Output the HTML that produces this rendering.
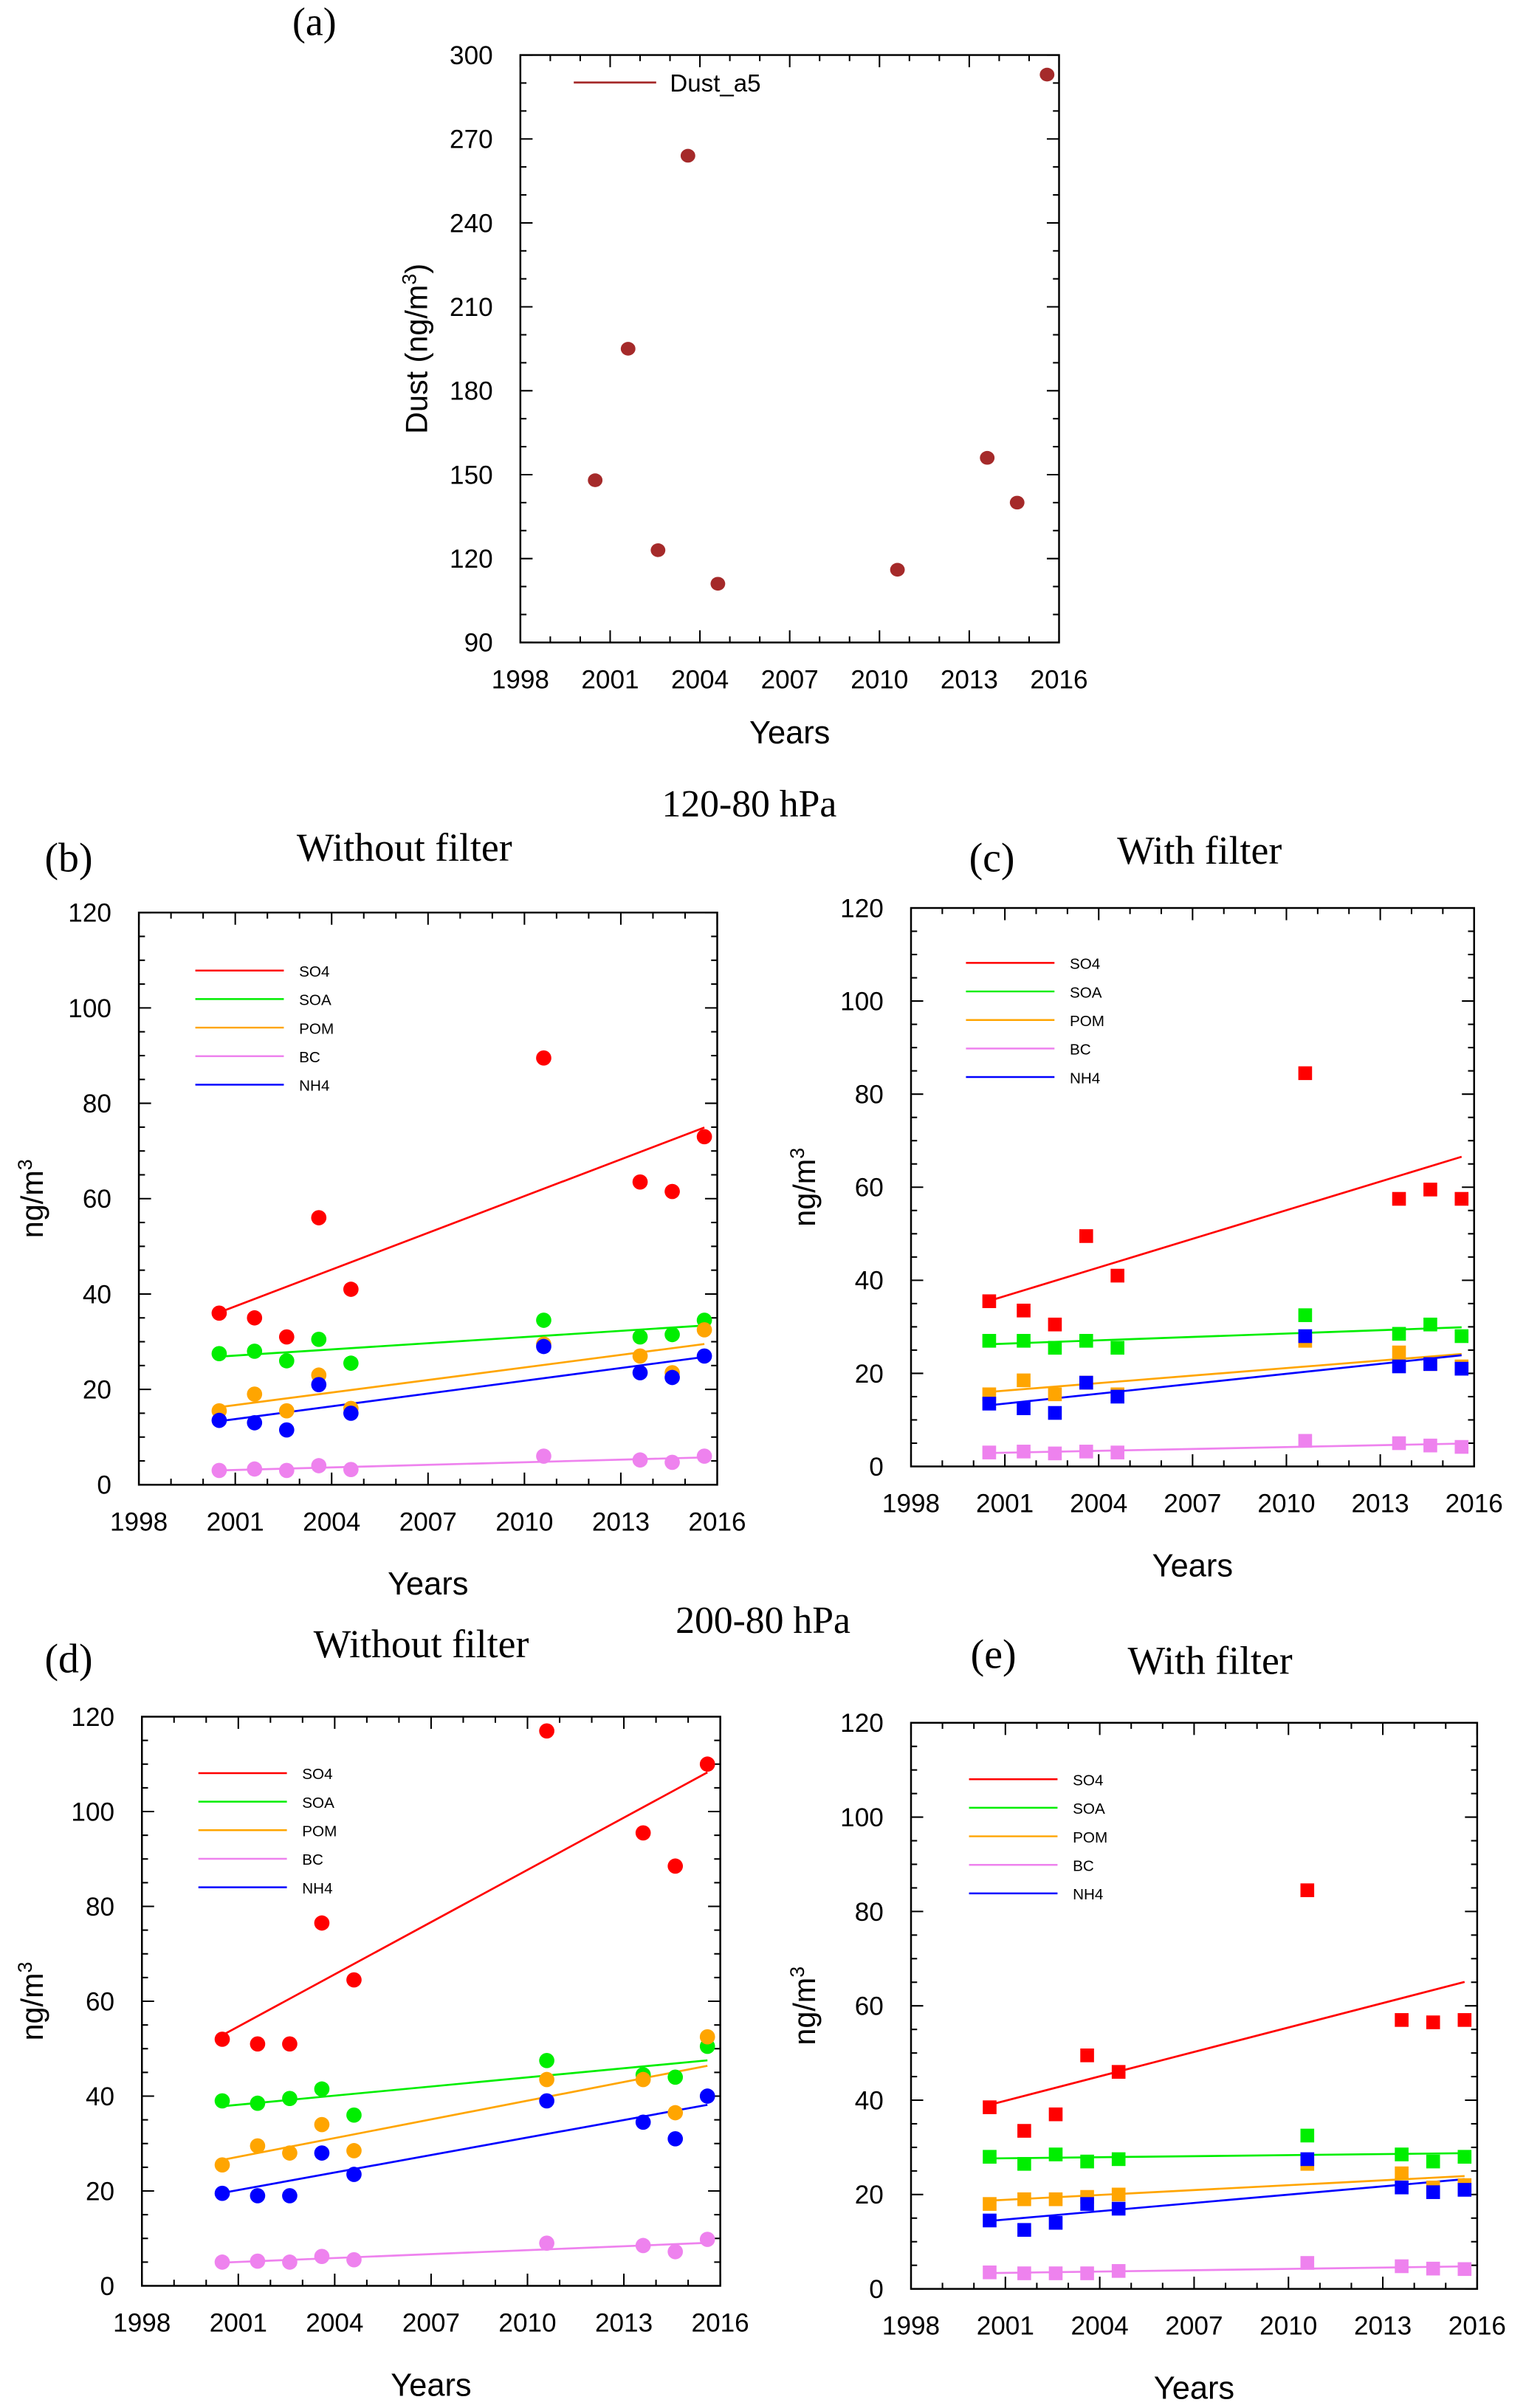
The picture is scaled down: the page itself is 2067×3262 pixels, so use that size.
<!DOCTYPE html>
<html><head><meta charset="utf-8">
<style>
html,body{margin:0;padding:0;background:#fff;}
svg{display:block;}
text{font-family:"Liberation Sans","DejaVu Sans",sans-serif;}
.serif{font-family:"Liberation Serif","DejaVu Serif",serif;}
</style></head>
<body>
<svg id="fig" width="2067" height="3262" viewBox="0 0 1000 1578" xmlns="http://www.w3.org/2000/svg">
<rect width="1000" height="1578" fill="#fff"/>
<text class="serif" x="206" y="23" font-size="26" text-anchor="middle">(a)</text>
<text class="serif" x="491" y="535" font-size="25" text-anchor="middle">120-80 hPa</text>
<text class="serif" x="45" y="571" font-size="27" text-anchor="middle">(b)</text>
<text class="serif" x="265" y="564" font-size="26" text-anchor="middle">Without filter</text>
<text class="serif" x="650" y="571" font-size="27" text-anchor="middle">(c)</text>
<text class="serif" x="786" y="566" font-size="26" text-anchor="middle">With filter</text>
<text class="serif" x="500" y="1070" font-size="25" text-anchor="middle">200-80 hPa</text>
<text class="serif" x="45" y="1096" font-size="27" text-anchor="middle">(d)</text>
<text class="serif" x="276" y="1086" font-size="26" text-anchor="middle">Without filter</text>
<text class="serif" x="651" y="1093" font-size="27" text-anchor="middle">(e)</text>
<text class="serif" x="793" y="1097" font-size="26" text-anchor="middle">With filter</text>
</svg>
<script>
// ---- data ----
const years = [2000.5, 2001.6, 2002.6, 2003.6, 2004.6, 2010.6, 2013.6, 2014.6, 2015.6];
const species = ["SO4", "SOA", "POM", "BC", "NH4"];
const dustValues = [148, 195, 123, 264, 111, 116, 156, 140, 293];
const xTicks = [1998, 2001, 2004, 2007, 2010, 2013, 2016];
const dustTicks = [90, 120, 150, 180, 210, 240, 270, 300];
const concTicks = [0, 20, 40, 60, 80, 100, 120];

const bSO4 = [36, 35, 31, 56, 41, 89.5, 63.5, 61.5, 73];
const bSOA = [27.5, 28, 26, 30.5, 25.5, 34.5, 31, 31.5, 34.5];
const bPOM = [15.5, 19, 15.5, 23, 16, 29.5, 27, 23.5, 32.5];
const bBC  = [3, 3.3, 3, 4, 3.2, 6, 5.2, 4.7, 6];
const bNH4 = [13.5, 13, 11.5, 21, 15, 29, 23.5, 22.5, 27];

const cSO4 = [35.5, 33.5, 30.5, 49.5, 41, 84.5, 57.5, 59.5, 57.5];
const cSOA = [27, 27, 25.5, 27, 25.5, 32.5, 28.5, 30.5, 28];
const cPOM = [15.5, 18.5, 15.5, 18, 15.5, 27, 24.5, 22, 21.5];
const cBC  = [3, 3.2, 2.8, 3.2, 3, 5.5, 5, 4.5, 4.2];
const cNH4 = [13.5, 12.5, 11.5, 18, 15, 28, 21.5, 22, 21];

const dSO4 = [52, 51, 51, 76.5, 64.5, 117, 95.5, 88.5, 110];
const dSOA = [39, 38.5, 39.5, 41.5, 36, 47.5, 44.5, 44, 50.5];
const dPOM = [25.5, 29.5, 28, 34, 28.5, 43.5, 43.5, 36.5, 52.5];
const dBC  = [5, 5.2, 5, 6.2, 5.5, 9, 8.5, 7.2, 9.8];
const dNH4 = [19.5, 19, 19, 28, 23.5, 39, 34.5, 31, 40];

const eSO4 = [38.5, 33.5, 37, 49.5, 46, 84.5, 57, 56.5, 57];
const eSOA = [28, 26.5, 28.5, 27, 27.5, 32.5, 28.5, 27, 28];
const ePOM = [18, 19, 19, 19.5, 20, 26.5, 24.5, 21.5, 22];
const eBC  = [3.5, 3.3, 3.3, 3.3, 3.8, 5.5, 4.8, 4.3, 4.2];
const eNH4 = [14.5, 12.5, 14, 18, 17, 27.5, 21.5, 20.5, 21];

const colors = ["#ff0000", "#00ee00", "#ffa500", "#ee82ee", "#0000ff"];

const NS = "http://www.w3.org/2000/svg";
const svg = document.getElementById("fig");
function mk(tag, attrs, parent) {
  const e = document.createElementNS(NS, tag);
  for (const k in attrs) e.setAttribute(k, attrs[k]);
  (parent || svg).appendChild(e);
  return e;
}

function axes(p) {
  const g = mk("g", {});
  
  
  const sx = v => p.x0 + (v - 1998) / 18 * (p.x1 - p.x0);
  const sy = v => p.y1 - (v - p.ymin) / (p.ymax - p.ymin) * (p.y1 - p.y0);
  const fr = mk("rect", {x: p.x0, y: p.y0, width: p.x1 - p.x0, height: p.y1 - p.y0, fill: "none", stroke: "#000", "stroke-width": 1.2}, g);
  
  
  for (let yr = 1998; yr <= 2016; yr++) {
    const major = xTicks.includes(yr);
    const L = major ? 8 : 4;
    mk("line", {x1: sx(yr), x2: sx(yr), y1: p.y1, y2: p.y1 - L, stroke: "#000", "stroke-width": 1}, g);
    mk("line", {x1: sx(yr), x2: sx(yr), y1: p.y0, y2: p.y0 + L, stroke: "#000", "stroke-width": 1}, g);
  }
  xTicks.forEach(t => {
    const tx = mk("text", {x: sx(t), y: p.y1 + 30, "font-size": 17, "text-anchor": "middle"}, g);
    tx.textContent = t;
    
    
  });
  for (let v = p.ymin; v <= p.ymax + 1e-9; v += p.minor) {
    const major = p.yTicks.includes(Math.round(v));
    const L = major ? 8 : 4;
    mk("line", {x1: p.x0, x2: p.x0 + L, y1: sy(v), y2: sy(v), stroke: "#000", "stroke-width": 1}, g);
    mk("line", {x1: p.x1, x2: p.x1 - L, y1: sy(v), y2: sy(v), stroke: "#000", "stroke-width": 1}, g);
  }
  p.yTicks.forEach(t => {
    const tx = mk("text", {x: p.x0 - 18, y: sy(t) + 6, "font-size": 17, "text-anchor": "end"}, g);
    tx.textContent = t;
    
    
  });
  const xt = mk("text", {x: (p.x0 + p.x1) / 2, y: p.y1 + p.xtOff, "font-size": 21, "text-anchor": "middle"}, g);
  xt.textContent = "Years";
  
  
  const yx = p.ytX, yy = (p.y0 + p.y1) / 2;
  const yt = mk("text", {x: yx, y: yy, "font-size": 20, "text-anchor": "middle", transform: `rotate(-90 ${yx} ${yy})`}, g);
  yt.innerHTML = p.ylab;
  
  
  return {g, sx, sy};
}

function fit(xs, ys) {
  const n = xs.length;
  const mx = xs.reduce((a, b) => a + b) / n, my = ys.reduce((a, b) => a + b) / n;
  let sxy = 0, sxx = 0;
  for (let i = 0; i < n; i++) { sxy += (xs[i] - mx) * (ys[i] - my); sxx += (xs[i] - mx) ** 2; }
  const b = sxy / sxx;
  return x => my + b * (x - mx);
}

(function () {
  const p = {name: "panel-a-dust", x0: 341, x1: 694, y0: 36, y1: 421, ymin: 90, ymax: 300, yTicks: dustTicks, minor: 10, xtOff: 66, ytX: 280,
    ylab: 'Dust (ng/m<tspan baseline-shift="super" font-size="13">3</tspan>)'};
  const {g, sx, sy} = axes(p);
  years.forEach((yr, i) => {
    const c = mk("ellipse", {cx: sx(yr), cy: sy(dustValues[i]), rx: 4.8, ry: 4.5, fill: "#a52a2a"}, g);
    
    
  });
  const l = mk("line", {x1: 376, x2: 430, y1: 54, y2: 54, stroke: "#a52a2a", "stroke-width": 1.3}, g);
  
  
  const t = mk("text", {x: 439, y: 60, "font-size": 16}, g);
  t.textContent = "Dust_a5";
  
  
})();

function concPanel(p, series, square) {
  Object.assign(p, {ymin: 0, ymax: 120, yTicks: concTicks, minor: 5,
    ylab: 'ng/m<tspan baseline-shift="super" font-size="13">3</tspan>'});
  const {g, sx, sy} = axes(p);
  series.forEach((vals, s) => {
    const f = fit(years, vals);
    const ln = mk("line", {x1: sx(years[0]), y1: sy(f(years[0])), x2: sx(years[8]), y2: sy(f(years[8])), stroke: colors[s], "stroke-width": 1.3}, g);
    
    
  });
  series.forEach((vals, s) => {
    vals.forEach((v, i) => {
      let m;
      if (square) m = mk("rect", {x: sx(years[i]) - 4.5, y: sy(v) - 4.5, width: 9, height: 9, fill: colors[s]}, g);
      else m = mk("circle", {cx: sx(years[i]), cy: sy(v), r: 5, fill: colors[s]}, g);
      
      
    });
  });
  species.forEach((nm, s) => {
    const y = p.ly + s * 18.7;
    const ln = mk("line", {x1: p.lx, x2: p.lx + 58, y1: y, y2: y, stroke: colors[s], "stroke-width": 1.2}, g);
    
    
    const t = mk("text", {x: p.lx + 68, y: y + 4, "font-size": 10}, g);
    t.textContent = nm;
    
    
  });
}

concPanel({name: "panel-b", x0: 91, x1: 470, y0: 598, y1: 973, xtOff: 72, ytX: 28, lx: 128, ly: 636}, [bSO4, bSOA, bPOM, bBC, bNH4], false);
concPanel({name: "panel-c", x0: 597, x1: 966, y0: 595, y1: 961, xtOff: 72, ytX: 534, lx: 633, ly: 631}, [cSO4, cSOA, cPOM, cBC, cNH4], true);
concPanel({name: "panel-d", x0: 93, x1: 472, y0: 1125, y1: 1498, xtOff: 72, ytX: 28, lx: 130, ly: 1162}, [dSO4, dSOA, dPOM, dBC, dNH4], false);
concPanel({name: "panel-e", x0: 597, x1: 968, y0: 1129, y1: 1500, xtOff: 72, ytX: 534, lx: 635, ly: 1166}, [eSO4, eSOA, ePOM, eBC, eNH4], true);
</script>
</body></html>
